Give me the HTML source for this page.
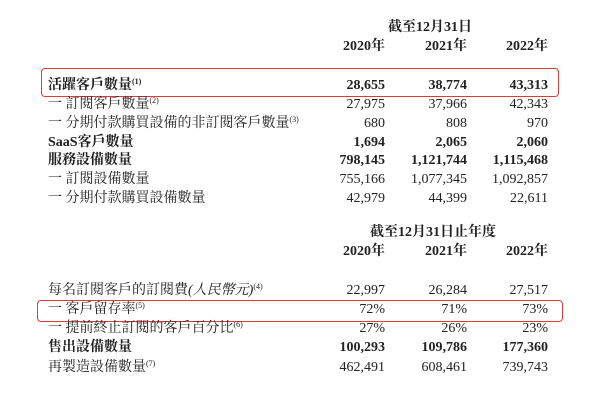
<!DOCTYPE html>
<html><head><meta charset="utf-8"><style>
body{margin:0;width:600px;height:400px;background:#fff;overflow:hidden;position:relative;font-family:"Liberation Serif","Noto Serif CJK SC",serif;color:#222;font-size:14px}
.t{position:absolute;white-space:nowrap;line-height:18px;height:18px}
.l{left:48px}
.n{text-align:right;width:110px}
.c1{left:275px}.c2{left:357px}.c3{left:438px}
.b{font-weight:bold}
sup{font-size:8px;line-height:0;position:relative;top:-5px;vertical-align:baseline}
.box{position:absolute;border:1.5px solid #e0393a;border-radius:4px}
</style></head><body>
<div class="box" style="left:41px;top:68px;width:516px;height:27px"></div>
<div class="box" style="left:37px;top:300px;width:524px;height:20px"></div>

<div class="t b" style="left:388px;top:19px">截至12月31日</div>
<div class="t b n c1" style="top:38px">2020年</div>
<div class="t b n c2" style="top:38px">2021年</div>
<div class="t b n c3" style="top:38px">2022年</div>

<div class="t l b" style="top:77px">活躍客戶數量<sup>(1)</sup></div>
<div class="t b n c1" style="top:77px">28,655</div><div class="t b n c2" style="top:77px">38,774</div><div class="t b n c3" style="top:77px">43,313</div>
<div class="t l" style="top:96px">一 訂閱客戶數量<sup>(2)</sup></div>
<div class="t n c1" style="top:96px">27,975</div><div class="t n c2" style="top:96px">37,966</div><div class="t n c3" style="top:96px">42,343</div>
<div class="t l" style="top:115px">一 分期付款購買設備的非訂閱客戶數量<sup>(3)</sup></div>
<div class="t n c1" style="top:115px">680</div><div class="t n c2" style="top:115px">808</div><div class="t n c3" style="top:115px">970</div>
<div class="t l b" style="top:134px">SaaS客戶數量</div>
<div class="t b n c1" style="top:134px">1,694</div><div class="t b n c2" style="top:134px">2,065</div><div class="t b n c3" style="top:134px">2,060</div>
<div class="t l b" style="top:152px">服務設備數量</div>
<div class="t b n c1" style="top:152px">798,145</div><div class="t b n c2" style="top:152px">1,121,744</div><div class="t b n c3" style="top:152px">1,115,468</div>
<div class="t l" style="top:171px">一 訂閱設備數量</div>
<div class="t n c1" style="top:171px">755,166</div><div class="t n c2" style="top:171px">1,077,345</div><div class="t n c3" style="top:171px">1,092,857</div>
<div class="t l" style="top:190px">一 分期付款購買設備數量</div>
<div class="t n c1" style="top:190px">42,979</div><div class="t n c2" style="top:190px">44,399</div><div class="t n c3" style="top:190px">22,611</div>

<div class="t b" style="left:370px;top:224px">截至12月31日止年度</div>
<div class="t b n c1" style="top:243px">2020年</div>
<div class="t b n c2" style="top:243px">2021年</div>
<div class="t b n c3" style="top:243px">2022年</div>

<div class="t l" style="top:282px">每名訂閱客戶的訂閱費<i>(人民幣元)</i><sup>(4)</sup></div>
<div class="t n c1" style="top:282px">22,997</div><div class="t n c2" style="top:282px">26,284</div><div class="t n c3" style="top:282px">27,517</div>
<div class="t l" style="top:301px">一 客戶留存率<sup>(5)</sup></div>
<div class="t n c1" style="top:301px">72%</div><div class="t n c2" style="top:301px">71%</div><div class="t n c3" style="top:301px">73%</div>
<div class="t l" style="top:320px">一 提前終止訂閱的客戶百分比<sup>(6)</sup></div>
<div class="t n c1" style="top:320px">27%</div><div class="t n c2" style="top:320px">26%</div><div class="t n c3" style="top:320px">23%</div>
<div class="t l b" style="top:339px">售出設備數量</div>
<div class="t b n c1" style="top:339px">100,293</div><div class="t b n c2" style="top:339px">109,786</div><div class="t b n c3" style="top:339px">177,360</div>
<div class="t l" style="top:359px">再製造設備數量<sup>(7)</sup></div>
<div class="t n c1" style="top:359px">462,491</div><div class="t n c2" style="top:359px">608,461</div><div class="t n c3" style="top:359px">739,743</div>
</body></html>
